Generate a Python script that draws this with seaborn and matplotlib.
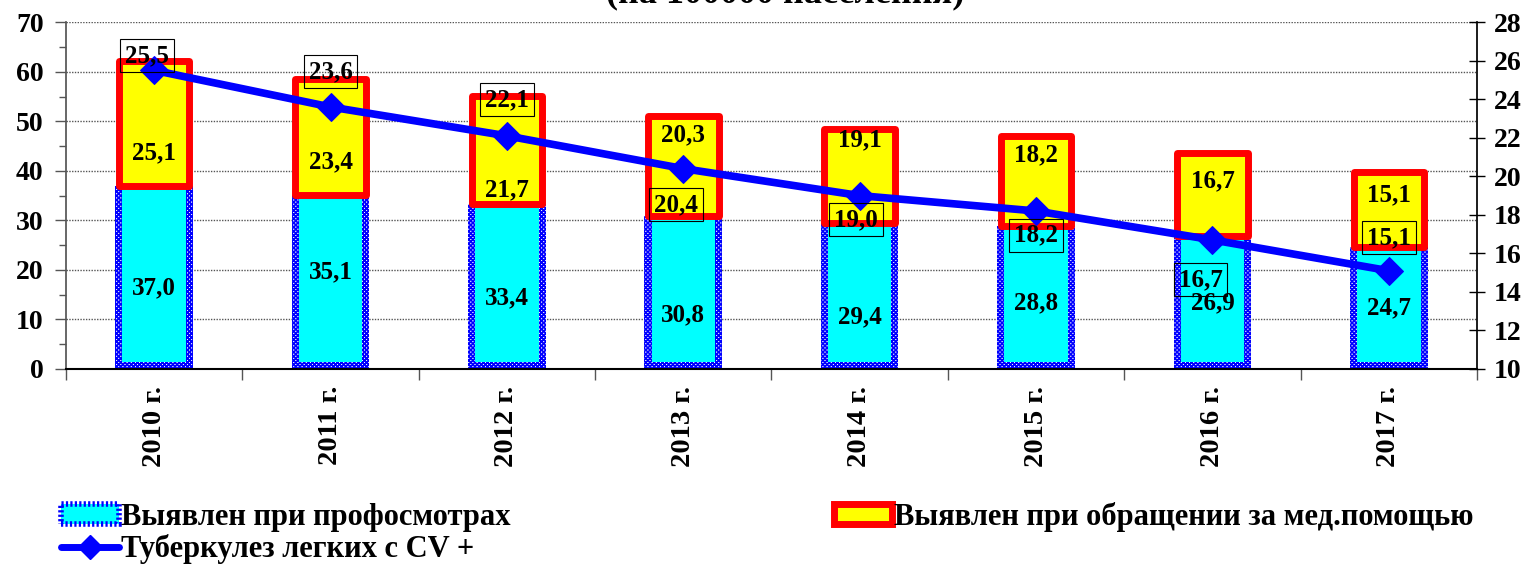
#!/usr/bin/env python3
"""
Tuberculosis incidence chart: stacked bars (how the case was detected)
plus a line on the secondary axis for pulmonary TB with CV+.
"""
import numpy as np
import pandas as pd
import seaborn as sns
import matplotlib.pyplot as plt
from matplotlib.patches import Patch
from matplotlib.lines import Line2D

# data
years = ["2010 г.", "2011 г.", "2012 г.", "2013 г.", "2014 г.", "2015 г.", "2016 г.", "2017 г."]
prof = [37.0, 35.1, 33.4, 30.8, 29.4, 28.8, 26.9, 24.7]     # выявлен при профосмотрах
obr = [25.1, 23.4, 21.7, 20.3, 19.1, 18.2, 16.7, 15.1]      # выявлен при обращении
cv = [25.5, 23.6, 22.1, 20.4, 19.0, 18.2, 16.7, 15.1]       # туберкулез легких с CV+

# label nudges in pixels (Excel-like placement seen in the reference)
prof_label_dy = [-10, 10, -12, -22, -21, -5, 0, 0]
obr_label_dy = [-29, -25, -40, 31, 36, 26, 14, 14]
cv_label_dx = [-7, 0, 0, -7, -4, 0, -12, 0]
cv_label_dy = [15, 35, 36, -36, -24, -24, -40, 33]

CYAN = "#00FFFF"
YELLOW = "#FFFF00"
RED = "#FF0000"
BLUE = "#0000FF"
FONT = "Liberation Serif"


def fmt(v):
    return f"{v:.1f}".replace(".", ",")


def main():
    sns.set_theme(style="white")
    plt.rcParams["font.family"] = [FONT, "DejaVu Serif"]
    plt.rcParams["font.weight"] = "bold"
    plt.rcParams["hatch.linewidth"] = 1.2
    for key in ["text.color", "axes.labelcolor", "xtick.color", "ytick.color"]:
        plt.rcParams[key] = "black"

    df = pd.DataFrame({"year": years, "prof": prof, "obr": obr, "cv": cv})
    prof_arr = np.array(prof)

    fig = plt.figure(figsize=(15.33, 5.69), dpi=100)
    ax = fig.add_axes([0.043, 0.3515, 0.9205, 0.6095])

    # 1) checkered blue frame of the lower bars, then the cyan body inside it
    inset = 1.4
    sns.barplot(data=df, x="year", y="prof", ax=ax, width=0.44, color="white",
                saturation=1, errorbar=None, hatch="xxxxxxxx", edgecolor=BLUE,
                linewidth=0, zorder=2)
    sns.barplot(x=df["year"], y=prof_arr - inset, ax=ax, width=0.36, color=CYAN,
                saturation=1, errorbar=None, linewidth=0, bottom=inset, zorder=3)

    # 2) upper (yellow) part of the stack with a thick red frame
    sns.barplot(data=df, x="year", y="obr", ax=ax, width=0.40, color=YELLOW,
                saturation=1, errorbar=None, edgecolor=RED, linewidth=5,
                bottom=prof_arr, joinstyle="round", zorder=4)

    ax.set_xlim(-0.5, len(years) - 0.5)
    ax.set_ylim(0, 70)
    ax.set_yticks(np.arange(0, 71, 10))
    ax.set_yticks(np.arange(5, 70, 10), minor=True)
    ax.set_xticks(np.arange(-0.5, len(years), 1.0), minor=True)
    ax.set_xlabel("")
    ax.set_ylabel("")
    ax.yaxis.grid(True, linestyle=(0, (1, 1)), color="#555555", linewidth=1)
    ax.set_axisbelow(True)

    ax.tick_params(axis="y", which="major", direction="out", length=8, width=1,
                   labelsize=20, pad=8, color="#555555")
    ax.tick_params(axis="y", which="minor", direction="out", length=5, width=1,
                   color="#555555", left=True)
    ax.tick_params(axis="x", which="major", length=0, labelsize=20.5, pad=12,
                   labelrotation=90)
    ax.tick_params(axis="x", which="minor", direction="out", length=8, width=1,
                   color="#555555", bottom=True)
    for lbl in ax.get_xticklabels() + ax.get_yticklabels():
        lbl.set_fontweight("bold")

    for side in ["top", "right"]:
        ax.spines[side].set_visible(False)
    ax.spines["left"].set_color("#555555")
    ax.spines["bottom"].set_color("black")
    ax.spines["bottom"].set_linewidth(1.5)

    # values inside the bars
    for i in range(len(years)):
        ax.annotate(fmt(prof[i]), xy=(i, prof[i] / 2), xytext=(0, prof_label_dy[i]),
                    textcoords="offset pixels", ha="center", va="center",
                    fontsize=18, fontweight="bold", zorder=6)
        ax.annotate(fmt(obr[i]), xy=(i, prof[i] + obr[i] / 2),
                    xytext=(0, obr_label_dy[i]), textcoords="offset pixels",
                    ha="center", va="center", fontsize=18, fontweight="bold",
                    zorder=6)

    # 3) CV+ line on the secondary axis
    ax2 = ax.twinx()
    sns.lineplot(data=df, x="year", y="cv", ax=ax2, color=BLUE, linewidth=5.5,
                 marker="D", markersize=14, markeredgecolor=BLUE, sort=False,
                 zorder=5)
    ax2.set_xlim(-0.5, len(years) - 0.5)
    ax2.set_ylim(10, 28)
    ax2.set_yticks(np.arange(10, 29, 2))
    ax2.set_ylabel("")
    ax2.tick_params(axis="y", direction="inout", length=12, width=1,
                    labelsize=20, pad=6, color="black")
    for lbl in ax2.get_yticklabels():
        lbl.set_fontweight("bold")
    for side in ["top", "left", "bottom"]:
        ax2.spines[side].set_visible(False)
    ax2.spines["right"].set_color("black")

    for i, val in enumerate(cv):
        ax2.annotate(fmt(val), xy=(i, val), xytext=(cv_label_dx[i], cv_label_dy[i]),
                     textcoords="offset pixels", ha="center", va="center",
                     fontsize=18, fontweight="bold", zorder=7,
                     bbox=dict(boxstyle="square,pad=0.2", facecolor="none",
                               edgecolor="black", linewidth=0.8))

    # title (only its lower part fits on the canvas)
    fig.text(0.512, 1 - 2 / 569, "(на 100000 населения)", ha="center",
             va="baseline", fontsize=26, fontweight="bold")

    # 4) legend below the plot
    h_prof = Patch(facecolor=CYAN, edgecolor=BLUE, linewidth=4,
                   linestyle=(0, (0.4, 0.4)))
    h_obr = Patch(facecolor=YELLOW, edgecolor=RED, linewidth=5)
    h_cv = Line2D([], [], color=BLUE, linewidth=5, marker="D", markersize=12)
    fig.legend([h_prof, h_cv, h_obr],
               ["Выявлен при профосмотрах", "Туберкулез легких с CV +",
                "Выявлен при обращении за мед.помощью"],
               loc="upper left", bbox_to_anchor=(0.030, 0.145), ncol=2,
               frameon=False, borderpad=0, handlelength=1.9, handleheight=0.6,
               handletextpad=0.05, columnspacing=10.6, labelspacing=0.08,
               prop={"family": FONT, "weight": "bold", "size": 22})

    fig.savefig("out.png", dpi=100)


if __name__ == "__main__":
    main()
